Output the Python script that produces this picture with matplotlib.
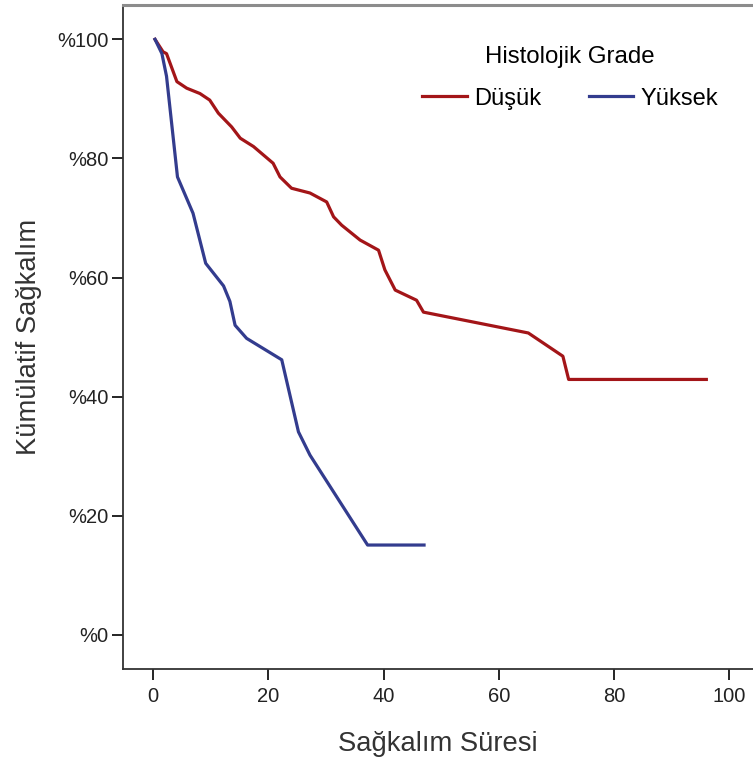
import matplotlib
matplotlib.use('Agg')
import matplotlib.pyplot as plt
from matplotlib.ticker import FuncFormatter

# Kaplan-Meier eğrileri (histolojik grade'e göre)
dusuk_sure = [0.3, 1.7, 2.3, 4.1, 5.8, 8.1, 9.8, 11.3, 12.7, 13.6, 15.1, 17.4, 20.8,
              22.0, 24.0, 27.2, 30.1, 31.3, 32.7, 35.9, 39.1, 40.2, 42.0, 45.7, 46.9,
              65.1, 71.1, 72.1, 96.0]
dusuk_sag = [100, 97.9, 97.6, 92.9, 91.8, 90.9, 89.8, 87.6, 86.2, 85.3, 83.4, 82.0, 79.2,
             76.9, 75.0, 74.2, 72.7, 70.2, 68.8, 66.3, 64.6, 61.3, 57.9, 56.2, 54.2,
             50.7, 46.8, 42.9, 42.9]

yuksek_sure = [0.3, 1.5, 2.3, 4.2, 6.9, 9.1, 12.2, 13.3, 14.2, 16.2, 22.3, 25.2, 27.2,
               37.2, 47.0]
yuksek_sag = [100, 97.6, 93.8, 76.9, 70.8, 62.4, 58.6, 56.0, 52.0, 49.8, 46.2, 34.1, 30.2,
              15.1, 15.1]

x_ticks = [0, 20, 40, 60, 80, 100]
y_ticks = [0, 20, 40, 60, 80, 100]

plt.rcParams['font.family'] = ['Liberation Sans', 'DejaVu Sans']

fig = plt.figure(figsize=(7.53, 7.61), dpi=100)
ax = fig.add_axes([0.163, 0.1213, 0.837, 0.8721])

ax.plot(dusuk_sure, dusuk_sag, color='#a31518', lw=2.3, label='Düşük', solid_joinstyle='round')
ax.plot(yuksek_sure, yuksek_sag, color='#333c8e', lw=2.3, label='Yüksek', solid_joinstyle='round')

ax.set_xlim(-5.3, 104.1)
ax.set_ylim(-5.66, 105.76)
ax.set_xticks(x_ticks)
ax.set_yticks(y_ticks)
ax.yaxis.set_major_formatter(FuncFormatter(lambda v, p: f'%{int(v)}'))

ax.tick_params(axis='both', direction='out', length=8, width=1.2, colors='black',
               labelsize=14.5, labelcolor='#222222')
ax.tick_params(axis='x', pad=5)
ax.tick_params(axis='y', pad=2)

ax.spines['right'].set_visible(False)
ax.spines['top'].set_color('#8c8c8c')
ax.spines['top'].set_linewidth(2.2)
for s in ['left', 'bottom']:
    ax.spines[s].set_linewidth(1.3)
    ax.spines[s].set_color('#333333')

ax.set_xlabel('Sağkalım Süresi', fontsize=19.7, color='#333333', labelpad=18)
ax.set_ylabel('Kümülatif Sağkalım', fontsize=19.7, color='#333333', labelpad=11)

leg = ax.legend(ncol=2, title='Histolojik Grade', frameon=False, fontsize=17,
                title_fontsize=17.3, loc='upper center', bbox_to_anchor=(0.71, 0.971),
                handlelength=1.9, columnspacing=2.0, handletextpad=0.3, labelspacing=0.85)

fig.savefig('out.png', dpi=100)
